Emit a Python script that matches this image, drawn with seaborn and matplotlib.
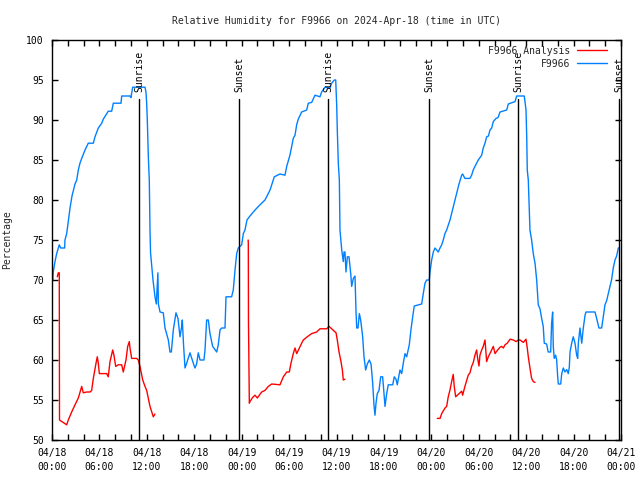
import numpy as np
import pandas as pd
import matplotlib
matplotlib.use("Agg")
import matplotlib.pyplot as plt
import matplotlib.dates as mdates
from matplotlib.lines import Line2D
import seaborn as sns

START = pd.Timestamp("2024-04-18 00:00")

# F9966 observed (hours since 04/18 00:00 UTC, %)
obs_hours = [0.0, 0.1, 0.16, 0.38, 0.59, 0.92, 1.1, 1.6, 1.64, 1.86, 2.02, 2.28, 2.53, 2.91,
             3.13, 3.33, 3.54, 3.76, 4.18, 4.59, 5.23, 5.44, 5.86, 6.29, 6.49, 6.92, 7.12,
             7.55, 7.76, 8.73, 8.82, 9.87, 9.99, 10.21, 11.77, 11.89, 11.98, 12.06, 12.19,
             12.31, 12.4, 12.47, 12.62, 12.78, 13.03, 13.2, 13.4, 13.46, 13.67, 14.08, 14.3,
             14.72, 14.93, 15.1, 15.35, 15.69, 15.94, 16.2, 16.41, 16.49, 16.64, 16.83,
             17.04, 17.46, 17.88, 18.09, 18.3, 18.51, 18.73, 19.23, 19.36, 19.57, 19.78,
             19.99, 20.33, 20.84, 21.04, 21.26, 21.47, 21.89, 22.02, 22.73, 22.94, 23.16,
             23.37, 23.57, 24.0, 24.21, 24.42, 24.67, 25.05, 25.69, 26.32, 26.95, 27.59,
             28.13, 28.85, 29.48, 29.7, 30.11, 30.33, 30.53, 30.75, 30.96, 31.16, 31.59,
             32.23, 32.43, 32.86, 33.28, 33.91, 34.12, 34.54, 35.17, 35.39, 35.72, 35.9,
             35.94, 36.03, 36.1, 36.23, 36.36, 36.44, 36.66, 36.86, 36.95, 37.07, 37.2,
             37.37, 37.58, 37.8, 37.92, 38.13, 38.34, 38.47, 38.56, 38.72, 38.89, 39.06,
             39.31, 39.48, 39.69, 39.9, 40.15, 40.37, 40.58, 40.74, 40.87, 41.0, 41.16,
             41.38, 41.59, 41.84, 42.01, 42.14, 42.35, 42.55, 43.11, 43.31, 43.53, 43.69,
             44.03, 44.25, 44.45, 44.67, 44.88, 45.21, 45.42, 45.64, 45.84, 46.78, 46.98,
             47.2, 47.41, 47.74, 47.83, 48.04, 48.25, 48.46, 48.88, 49.1, 49.31, 49.51,
             49.72, 49.94, 50.36, 50.74, 51.12, 51.5, 51.84, 51.96, 52.25, 52.88, 53.1,
             53.3, 53.52, 53.94, 54.37, 54.57, 54.79, 55.0, 55.23, 55.42, 55.64, 55.84,
             56.18, 56.44, 56.69, 57.54, 57.74, 58.59, 58.8, 59.76, 59.98, 60.07, 60.14,
             60.27, 60.48, 60.69, 60.9, 61.12, 61.33, 61.53, 61.75, 61.96, 62.16, 62.29,
             62.59, 62.79, 63.1, 63.22, 63.35, 63.43, 63.55, 63.73, 63.86, 63.99, 64.07,
             64.37, 64.5, 64.7, 64.91, 65.13, 65.33, 65.46, 65.55, 65.76, 65.96, 66.18,
             66.39, 66.52, 66.6, 66.81, 67.03, 67.23, 67.45, 67.57, 68.71, 68.92, 69.21,
             69.55, 69.76, 69.97, 70.18, 70.39, 70.6, 70.82, 71.02, 71.24, 71.45, 71.66,
             71.78]
obs_values = [70.5, 70.0, 71.0, 72.3, 73.3, 74.4, 74.0, 74.0, 75.0, 75.8, 77.0, 79.0, 80.5, 82.0,
              82.5, 83.75, 84.6, 85.2, 86.25, 87.1, 87.1, 87.9, 89.0, 89.6, 90.1, 90.8, 91.1,
              91.1, 92.1, 92.1, 93.0, 93.0, 92.8, 94.1, 94.1, 93.5, 92.1, 90.0, 85.4,
              82.5, 76.25, 73.4, 71.7, 70.0, 67.9, 67.0, 70.9, 67.0, 66.0, 65.9, 64.0,
              62.5, 61.0, 61.0, 63.75, 65.9, 65.2, 62.9, 64.2, 65.0, 62.0, 59.0,
              59.6, 60.9, 59.6, 59.0, 59.5, 60.9, 60.0, 60.0, 61.25, 65.0, 65.0,
              63.3, 61.7, 61.0, 61.9, 63.75, 64.0, 64.0, 67.9, 67.9, 68.75, 71.25,
              73.3, 74.0, 74.4, 75.8, 76.25, 77.5, 78.0, 78.75, 79.4, 80.0, 81.25,
              82.9, 83.25, 83.1, 84.2, 85.6, 86.7, 87.7, 88.1, 89.4, 90.1, 91.0,
              91.25, 92.1, 92.2, 93.1, 92.9, 93.5, 94.1, 94.0, 94.6, 95.0, 95.0,
              94.0, 91.7, 88.75, 84.6, 82.5, 76.25, 73.75, 72.3, 73.5, 73.5, 71.0,
              72.9, 72.9, 70.8, 69.2, 70.2, 70.5, 66.0, 64.0, 64.0, 65.8, 65.0,
              62.9, 60.4, 58.75, 59.5, 60.0, 59.5, 57.1, 54.4, 53.1, 54.6, 55.8,
              56.2, 57.9, 57.9, 55.8, 54.2, 55.8, 56.9, 56.9, 57.9, 57.6, 56.9,
              58.75, 58.3, 59.6, 60.8, 60.4, 61.9, 63.75, 65.4, 66.75, 67.0, 68.3,
              69.6, 70.0, 70.0, 71.0, 72.5, 73.5, 74.0, 73.5, 74.0, 74.4, 75.0,
              75.8, 76.25, 77.5, 79.0, 80.5, 82.0, 83.1, 83.25, 82.7, 82.7, 83.1,
              83.75, 84.2, 85.0, 85.6, 86.5, 87.1, 87.9, 88.0, 88.75, 89.0, 89.8,
              90.2, 90.3, 91.0, 91.25, 92.0, 92.3, 93.0, 93.0, 91.25, 87.9, 83.75,
              82.5, 76.25, 75.0, 73.3, 72.1, 70.0, 66.9, 66.4, 65.2, 64.2, 62.1,
              62.0, 61.0, 61.0, 64.6, 66.0, 61.7, 60.2, 60.6, 60.0, 57.9, 57.0,
              57.0, 58.3, 59.0, 58.5, 58.8, 58.3, 59.1, 61.0, 62.1, 62.9, 62.1,
              60.6, 60.2, 62.1, 64.0, 62.1, 64.0, 65.6, 66.0, 66.0, 65.2, 64.0,
              64.0, 65.4, 66.9, 67.4, 68.3, 69.2, 70.1, 71.5, 72.5, 73.0, 74.0,
              74.0]

# F9966 Analysis, three runs (hours, %)
ana1_hours = [0.67, 0.8, 0.92, 0.95, 1.86, 2.06, 2.49, 2.91, 3.33, 3.76, 3.96, 4.39, 4.81,
              5.02, 5.23, 5.57, 5.73, 5.86, 5.99, 6.92, 7.12, 7.34, 7.68, 7.84, 8.06, 8.39,
              8.82, 9.02, 9.36, 9.58, 9.78, 9.87, 10.08, 10.71, 10.92, 11.13, 11.48, 11.77,
              11.98, 12.19, 12.4, 12.82, 13.03]
ana1_values = [70.4, 70.9, 70.9, 52.5, 51.9, 52.5, 53.5, 54.4, 55.25, 56.7, 55.9, 56.0, 56.0,
               56.2, 57.7, 59.6, 60.4, 59.6, 58.3, 58.3, 57.9, 59.8, 61.25, 60.6, 59.2, 59.4,
               59.4, 58.5, 60.0, 61.7, 62.3, 61.5, 60.2, 60.2, 60.0, 59.2, 57.5, 56.7,
               56.2, 55.2, 54.2, 52.9, 53.25]
ana2_hours = [24.82, 24.84, 24.86, 24.97, 25.05, 25.37, 25.69, 25.98, 26.53, 26.95, 27.37,
              27.8, 28.85, 29.27, 29.7, 30.03, 30.24, 30.53, 30.75, 30.96, 31.16, 31.59,
              31.8, 32.43, 32.86, 33.49, 33.91, 34.76, 35.05, 35.39, 35.94, 36.1, 36.32,
              36.57, 36.74, 36.86, 37.07]
ana2_values = [75.0, 74.6, 65.0, 54.6, 54.8, 55.3, 55.6, 55.25, 56.0, 56.2, 56.7,
               57.0, 56.9, 57.9, 58.5, 58.5, 59.6, 60.8, 61.5, 60.8, 61.2, 62.1,
               62.5, 63.0, 63.3, 63.5, 63.9, 63.9, 64.2, 63.9, 63.4, 62.5, 61.0,
               59.8, 58.75, 57.5, 57.6]
ana3_hours = [48.75, 49.1, 49.31, 49.73, 49.94, 50.14, 50.36, 50.57, 50.77, 50.9, 51.08,
              51.41, 51.84, 51.96, 52.25, 52.67, 52.89, 53.1, 53.31, 53.52, 53.73, 53.86,
              54.03, 54.15, 54.37, 54.57, 54.79, 55.0, 55.21, 55.51, 55.84, 56.06, 56.35,
              56.69, 56.9, 57.11, 57.32, 57.61, 57.96, 58.38, 58.72, 59.01, 59.22, 59.64,
              59.98, 60.14, 60.27, 60.48, 60.69, 60.9, 61.12]
ana3_values = [52.7, 52.7, 53.3, 54.0, 54.2, 55.4, 56.25, 57.3, 58.2, 56.7, 55.4,
               55.7, 56.1, 55.6, 56.7, 58.1, 58.4, 59.2, 59.7, 60.6, 61.25, 60.2,
               59.25, 60.6, 61.25, 61.7, 62.5, 59.8, 60.4, 61.0, 61.7, 60.8, 61.2,
               61.6, 61.7, 61.5, 61.9, 62.1, 62.6, 62.5, 62.3, 62.5, 62.5, 62.2,
               62.6, 61.5, 60.4, 59.0, 57.7, 57.3, 57.2]

# Sun events (hours since start)
sun_labels = ["Sunrise", "Sunset", "Sunrise", "Sunset", "Sunrise", "Sunset"]
sun_hours = [11.05, 23.70, 34.96, 47.74, 59.0, 71.78]

title = "Relative Humidity for F9966 on 2024-Apr-18 (time in UTC)"
ylabel = "Percentage"
obs_name = "F9966"
ana_name = "F9966 Analysis"

def to_time(h):
    return START + pd.to_timedelta(np.asarray(h), unit="h")

obs_df = pd.DataFrame({"time": to_time(obs_hours), "value": obs_values})
ana_df = pd.concat([
    pd.DataFrame({"time": to_time(h), "value": v, "seg": i})
    for i, (h, v) in enumerate([(ana1_hours, ana1_values),
                                (ana2_hours, ana2_values),
                                (ana3_hours, ana3_values)])
], ignore_index=True)

sns.set_theme(style="ticks")
plt.rcParams["font.family"] = ["DejaVu Sans Mono", "DejaVu Sans"]

RED = "#ff0000"
BLUE = "#0080ff"
FS = 7

fig = plt.figure(figsize=(6.4, 4.8), dpi=100)
ax = fig.add_axes([52 / 640, 1 - 440 / 480, (621 - 52) / 640, 400 / 480])

sns.lineplot(data=ana_df, x="time", y="value", units="seg", estimator=None,
             sort=False, color=RED, lw=1.0, ax=ax, legend=False)
sns.lineplot(data=obs_df, x="time", y="value", sort=False, color=BLUE,
             lw=1.0, ax=ax, legend=False)

for lab, h in zip(sun_labels, sun_hours):
    t = to_time(h)
    ax.plot([t, t], [50, 92.6], color="black", lw=1.0)
    ax.text(t, 93.5, lab, rotation=90, ha="center", va="bottom",
            fontsize=FS, color="black")

ax.set_xlim(START, START + pd.Timedelta(hours=72))
ax.set_ylim(50, 100)
ax.set_yticks(np.arange(50, 101, 5))
ax.xaxis.set_major_locator(mdates.HourLocator(byhour=[0, 6, 12, 18]))
ax.xaxis.set_minor_locator(mdates.HourLocator(interval=2))
ax.xaxis.set_major_formatter(mdates.DateFormatter("%m/%d\n%H:%M"))
ax.tick_params(axis="both", which="both", direction="in", length=4, width=1,
               top=True, right=True, labelsize=FS, colors="black", pad=6)
ax.tick_params(axis="x", which="minor", length=4)
for lbl in ax.get_xticklabels():
    lbl.set_linespacing(1.5)
for s in ax.spines.values():
    s.set_visible(True)
    s.set_color("black")
    s.set_linewidth(1.0)

ax.set_xlabel("")
ax.set_ylabel(ylabel, fontsize=FS, labelpad=10)
ax.set_title(title, fontsize=FS, pad=11.5)

handles = [Line2D([], [], color=RED, lw=1.0), Line2D([], [], color=BLUE, lw=1.0)]
leg = ax.legend(handles, [ana_name, obs_name], loc="upper right",
                bbox_to_anchor=(0.985, 1.0), frameon=False, markerfirst=False,
                fontsize=FS, handlelength=3.0, handletextpad=0.7,
                labelspacing=0.3, borderaxespad=0.2)
for t in leg.get_texts():
    t.set_ha("right")

fig.savefig("out.png", dpi=100)
